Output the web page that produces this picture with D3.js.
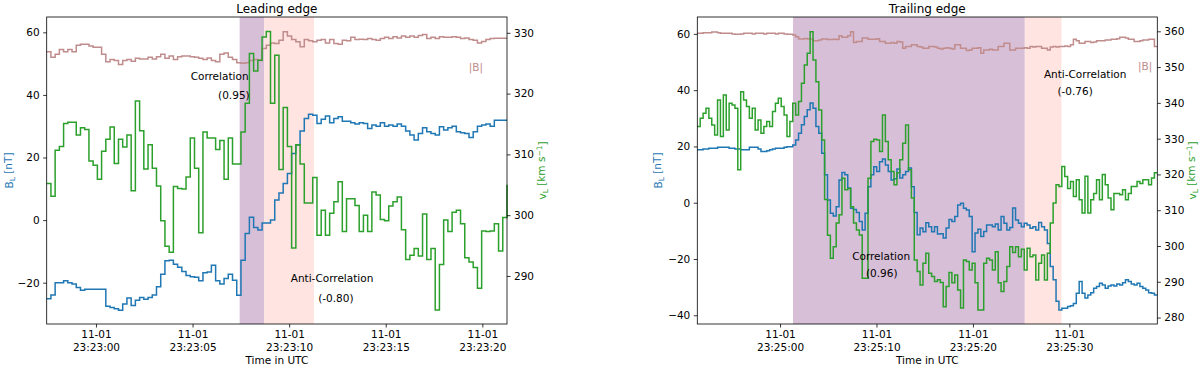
<!DOCTYPE html>
<html>
<head>
<meta charset="utf-8">
<style>
  body { margin: 0; background: #fff; }
  svg text { font-family: "DejaVu Sans", sans-serif; fill: #000; }
</style>
</head>
<body>
<div id="chart"></div>
<script src="https://d3js.org/d3.v7.min.js"></script>
<script>

// ---------------- data : leading edge ----------------
// samples are evenly spaced, starting at leadStart
var leadStart = "2015-11-01T23:22:57.450Z";
var leadStep = 0.2186; // seconds

var leadBL = [
  -25.1, -23.9, -20.0, -20.0, -19.4, -20.0, -20.4, -21.5, -22.4, -22.1,
  -22.1, -22.1, -22.1, -22.1, -27.5, -27.9, -28.3, -28.8, -26.8, -24.9,
  -27.3, -25.6, -24.7, -25.3, -24.7, -23.9, -21.3, -17.3, -13.0, -12.8,
  -14.1, -15.1, -16.4, -17.7, -18.1, -18.3, -19.4, -16.8, -16.6, -14.4,
  -19.4, -20.4, -18.7, -17.3, -19.2, -24.0, -12.8, -4.3, 0.9, -2.4,
  -3.2, -0.9, -0.9, 0.0, 6.4, 8.7, 11.7, 14.9, 21.3, 24.0,
  28.5, 32.5, 33.8, 33.5, 30.9, 32.2, 33.3, 31.1, 32.5, 33.0,
  31.6, 31.6, 31.1, 30.7, 31.1, 30.9, 29.3, 30.4, 30.0, 31.1,
  30.0, 30.4, 30.0, 30.7, 30.0, 28.5, 27.2, 25.6, 27.7, 29.5,
  28.2, 27.7, 27.2, 29.8, 28.8, 29.5, 30.0, 28.2, 27.9, 27.7,
  26.4, 28.2, 30.0, 30.4, 30.7, 30.0, 31.9, 31.9, 31.9, 31.9
];

var leadVL = [
  305.2, 303.1, 310.7, 311.3, 315.1, 315.3, 315.3, 313.2, 314.4, 314.1,
  308.9, 308.2, 305.9, 310.5, 312.5, 314.5, 308.5, 312.5, 311.2, 313.2,
  304.0, 318.8, 313.9, 307.6, 311.6, 307.7, 304.8, 299.1, 294.9, 293.9,
  304.7, 304.4, 304.3, 306.3, 312.7, 307.7, 297.1, 313.7, 312.7, 312.7,
  310.8, 312.3, 305.9, 312.7, 308.4, 308.4, 313.7, 318.4, 326.6, 323.7,
  325.5, 329.3, 330.2, 318.4, 326.3, 307.5, 317.7, 311.3, 294.6, 311.6,
  308.4, 302.0, 302.0, 306.2, 296.7, 300.8, 296.7, 300.3, 302.2, 305.5,
  297.3, 302.7, 302.7, 301.6, 297.3, 300.0, 297.3, 303.8, 303.3, 299.3,
  299.1, 301.5, 302.2, 303.0, 297.6, 292.7, 293.4, 294.5, 293.3, 300.2,
  292.7, 294.5, 284.4, 291.9, 299.2, 297.3, 300.5, 300.8, 298.6, 293.0,
  292.3, 291.4, 288.0, 297.4, 297.3, 297.4, 298.6, 294.1, 299.6, 305.0
];

var leadBmag = [
  53.8, 52.0, 53.0, 54.5, 53.8, 54.5, 53.8, 55.9, 56.2, 56.2,
  55.6, 55.2, 55.2, 53.0, 50.6, 51.3, 51.0, 49.7, 51.0, 51.3,
  50.8, 51.7, 51.5, 51.5, 52.0, 51.5, 52.2, 53.0, 51.7, 52.4,
  51.3, 52.2, 52.4, 52.4, 52.2, 52.0, 51.7, 51.3, 51.8, 51.0,
  50.6, 53.0, 53.4, 52.0, 51.3, 50.3, 50.1, 50.3, 51.0, 51.3,
  51.0, 54.8, 55.9, 56.6, 56.4, 57.5, 60.2, 58.8, 57.7, 57.0,
  55.4, 57.7, 57.3, 57.0, 57.5, 57.7, 56.6, 57.7, 56.4, 56.2,
  57.5, 57.3, 58.4, 57.7, 57.8, 57.7, 58.0, 57.7, 57.5, 58.0,
  58.4, 58.0, 58.6, 58.2, 58.8, 58.4, 58.8, 58.4, 59.0, 59.3,
  58.0, 58.4, 58.0, 58.6, 58.4, 58.4, 58.6, 58.4, 58.0, 58.2,
  57.7, 57.5, 56.6, 57.1, 57.7, 58.0, 58.1, 58.1, 58.1, 58.1
];

var leadTicks = ["2015-11-01T23:23:00Z", "2015-11-01T23:23:05Z", "2015-11-01T23:23:10Z",
                 "2015-11-01T23:23:15Z", "2015-11-01T23:23:20Z"];
var leadBTicks = [-20, 0, 20, 40, 60];
var leadVTicks = [290, 300, 310, 320, 330];
var leadBRange = [-33.2, 64.9];
var leadVRange = [282.1, 332.6];
// correlated / anti-correlated intervals
var leadSpans = [["2015-11-01T23:23:07.438Z", "2015-11-01T23:23:08.711Z"],
                 ["2015-11-01T23:23:08.711Z", "2015-11-01T23:23:11.284Z"]];
// [text, time, B value]
var leadNotes = [
  ["Correlation", "2015-11-01T23:23:06.40Z", 44.7],
  ["(0.95)", "2015-11-01T23:23:07.14Z", 38.7],
  ["Anti-Correlation", "2015-11-01T23:23:12.22Z", -19.7],
  ["(-0.80)", "2015-11-01T23:23:12.42Z", -26.1]
];
var leadBmagLabel = ["|B|", "2015-11-01T23:23:19.67Z", 47.7];

// ---------------- data : trailing edge ----------------
var trailStart = "2015-11-01T23:24:51.420Z";
var trailStep = 0.3; // seconds

var trailBL = [
  18.8, 18.8, 19.1, 19.1, 19.4, 19.4, 19.4, 19.7, 19.7, 19.7,
  19.7, 19.4, 19.4, 19.1, 19.1, 18.8, 18.8, 18.8, 19.7, 19.7,
  19.7, 19.1, 18.2, 18.2, 18.5, 18.8, 19.1, 19.4, 19.4, 19.4,
  19.7, 19.9, 19.9, 20.5, 22.3, 24.7, 27.7, 30.6, 33.0, 35.4,
  33.6, 27.1, 24.7, 17.6, 9.9, 1.0, -3.7, -4.7, -1.4, 8.1,
  10.7, 9.9, 5.2, -2.0, -2.4, -3.5, -6.7, -9.7, -3.7, 5.7,
  9.9, 12.8, 11.1, 14.6, 15.5, 13.4, 11.1, 8.1, 8.5, 12.0,
  8.8, 9.9, 11.1, 12.3, 5.7, -3.5, -11.4, -9.0, -10.3, -7.1,
  -8.5, -10.3, -8.5, -11.1, -11.0, -12.5, -9.0, -6.0, -6.7, -4.9,
  -0.8, -0.2, -2.0, -2.6, -4.9, -17.4, -10.8, -9.4, -12.0, -10.2,
  -7.9, -7.9, -8.5, -7.6, -9.7, -4.9, -7.3, -9.7, -8.8, -1.9,
  -6.1, -7.3, -8.5, -7.3, -7.9, -9.1, -8.5, -9.7, -7.0, -8.5,
  -9.7, -14.5, -22.7, -27.4, -35.0, -38.1, -37.5, -37.5, -36.9, -36.6,
  -35.8, -32.2, -28.0, -32.2, -33.9, -32.8, -32.0, -30.4, -29.8, -28.6,
  -29.2, -30.4, -29.6, -29.2, -29.6, -28.9, -29.2, -28.4, -27.4, -28.0,
  -28.9, -29.2, -28.6, -29.8, -30.4, -31.0, -32.0, -32.2, -32.8, -32.8
];

var trailVL = [
  333.4, 335.7, 337.1, 338.5, 335.7, 333.8, 331.0, 340.8, 330.6, 342.2,
  332.4, 339.9, 339.4, 338.5, 321.3, 343.1, 340.8, 339.0, 335.7, 338.5,
  332.4, 335.2, 331.5, 333.4, 334.8, 333.4, 337.6, 339.9, 341.3, 339.0,
  336.6, 330.6, 334.8, 339.9, 336.6, 340.4, 345.5, 350.6, 353.9, 359.9,
  352.0, 345.9, 338.0, 329.6, 313.0, 303.0, 296.6, 299.8, 306.4, 308.7,
  318.9, 315.7, 316.1, 311.0, 306.4, 304.5, 303.1, 291.0, 291.0, 318.9,
  329.2, 329.8, 329.6, 326.4, 336.6, 329.2, 324.1, 320.8, 317.1, 320.5,
  324.1, 328.7, 333.8, 321.3, 313.4, 296.1, 292.9, 289.1, 295.2, 298.0,
  292.4, 291.5, 290.1, 290.6, 289.8, 283.0, 288.7, 292.6, 289.7, 291.9,
  287.7, 282.7, 296.1, 295.7, 293.3, 295.2, 289.7, 282.1, 282.1, 295.2,
  296.6, 296.1, 293.3, 298.4, 289.7, 287.3, 290.1, 294.3, 299.8, 298.2,
  299.8, 297.0, 299.1, 293.3, 299.4, 297.0, 297.5, 290.5, 295.2, 297.5,
  290.5, 298.0, 306.4, 312.0, 317.1, 316.6, 322.2, 319.4, 316.1, 318.0,
  313.8, 318.5, 312.9, 309.2, 319.5, 309.2, 312.9, 314.7, 318.5, 312.9,
  320.0, 317.1, 313.4, 310.1, 314.7, 314.7, 314.3, 315.7, 312.9, 314.7,
  316.6, 316.6, 318.0, 317.5, 318.5, 318.5, 317.1, 319.0, 320.5, 320.5
];

var trailBmag = [
  60.2, 60.2, 60.4, 60.4, 60.4, 60.7, 60.7, 60.4, 60.2, 60.2,
  60.2, 60.2, 60.0, 59.9, 59.9, 60.0, 60.2, 60.2, 60.2, 60.0,
  60.2, 60.2, 60.2, 60.0, 60.2, 60.2, 60.2, 60.0, 60.2, 60.2,
  60.0, 59.9, 59.9, 59.6, 59.0, 58.2, 58.2, 58.4, 58.2, 58.2,
  57.6, 57.6, 57.8, 58.2, 58.2, 58.0, 58.0, 58.1, 58.0, 59.3,
  58.8, 58.8, 59.3, 60.8, 56.9, 57.3, 57.3, 58.5, 58.5, 58.1,
  58.1, 58.1, 58.3, 57.3, 57.3, 56.7, 56.7, 56.9, 56.7, 57.3,
  57.1, 54.9, 55.5, 55.5, 56.1, 56.1, 55.5, 55.3, 54.9, 54.9,
  55.5, 55.5, 55.3, 54.9, 54.6, 54.9, 55.1, 54.9, 54.6, 56.1,
  56.1, 54.9, 54.9, 54.1, 54.3, 54.9, 54.9, 55.1, 53.1, 54.3,
  54.3, 54.5, 54.3, 54.3, 55.5, 55.5, 56.7, 56.7, 54.3, 54.3,
  54.9, 54.9, 54.9, 55.1, 54.9, 55.5, 55.3, 55.5, 55.5, 54.9,
  54.9, 54.3, 55.3, 55.5, 55.3, 55.5, 55.5, 55.7, 55.5, 56.1,
  58.1, 57.6, 56.7, 56.7, 57.3, 57.3, 56.9, 57.1, 57.6, 57.6,
  57.6, 57.8, 57.8, 58.1, 58.1, 58.3, 58.8, 58.8, 58.5, 58.1,
  58.1, 57.3, 57.3, 57.6, 57.8, 57.8, 58.1, 58.1, 55.5, 55.5
];

var trailTicks = ["2015-11-01T23:25:00Z", "2015-11-01T23:25:10Z",
                  "2015-11-01T23:25:20Z", "2015-11-01T23:25:30Z"];
var trailBTicks = [-40, -20, 0, 20, 40, 60];
var trailVTicks = [280, 290, 300, 310, 320, 330, 340, 350, 360];
var trailBRange = [-43.1, 66.0];
var trailVRange = [278.2, 364.0];
var trailSpans = [["2015-11-01T23:25:01.349Z", "2015-11-01T23:25:25.380Z"],
                  ["2015-11-01T23:25:25.380Z", "2015-11-01T23:25:29.180Z"]];
var trailNotes = [
  ["Anti-Correlation", "2015-11-01T23:25:31.64Z", 44.3],
  ["(-0.76)", "2015-11-01T23:25:30.60Z", 38.3],
  ["Correlation", "2015-11-01T23:25:10.48Z", -20.3],
  ["(0.96)", "2015-11-01T23:25:10.55Z", -26.3]
];
var trailBmagLabel = ["|B|", "2015-11-01T23:25:37.86Z", 47.0];

// ---------------- drawing ----------------
var colBL = "#1f77b4", colVL = "#2ca02c", colBmag = "#c08c8c";
var spanFill = ["#d8bfd8", "#ffe4e1"];
var plotTop = 17, plotBottom = 324;

var svg = d3.select("#chart").append("svg")
    .attr("width", 1200)
    .attr("height", 368);

var fmtDay = d3.utcFormat("%m-%d"),
    fmtTime = d3.utcFormat("%H:%M:%S");

function toSeries(start, step, values) {
  var t0 = new Date(start).getTime();
  return values.map(function(v, i) {
    return { date: new Date(t0 + i * step * 1000), value: v };
  });
}

function drawPanel(p) {
  var g = svg.append("g");
  var bl = toSeries(p.start, p.step, p.bl),
      vl = toSeries(p.start, p.step, p.vl),
      bm = toSeries(p.start, p.step, p.bmag);

  var x = d3.scaleUtc()
      .domain(d3.extent(bl, function(d) { return d.date; }))
      .range([p.left, p.right]);
  var yB = d3.scaleLinear().domain(p.bRange).range([plotBottom, plotTop]);
  var yV = d3.scaleLinear().domain(p.vRange).range([plotBottom, plotTop]);

  // shaded intervals
  p.spans.forEach(function(s, i) {
    var x0 = x(new Date(s[0])), x1 = x(new Date(s[1]));
    g.append("rect")
        .attr("x", x0).attr("y", plotTop)
        .attr("width", x1 - x0).attr("height", plotBottom - plotTop)
        .attr("fill", spanFill[i]);
  });

  var lineB = d3.line().curve(d3.curveStepAfter)
      .x(function(d) { return x(d.date); })
      .y(function(d) { return yB(d.value); });
  var lineV = d3.line().curve(d3.curveStepAfter)
      .x(function(d) { return x(d.date); })
      .y(function(d) { return yV(d.value); });

  g.append("path").datum(bm).attr("d", lineB)
      .attr("fill", "none").attr("stroke", colBmag).attr("stroke-width", 1.5);
  g.append("path").datum(bl).attr("d", lineB)
      .attr("fill", "none").attr("stroke", colBL).attr("stroke-width", 1.5);
  g.append("path").datum(vl).attr("d", lineV)
      .attr("fill", "none").attr("stroke", colVL).attr("stroke-width", 1.5);

  // axes
  var xAxis = g.append("g")
      .attr("transform", "translate(0," + plotBottom + ")")
      .call(d3.axisBottom(x)
        .tickValues(p.ticks.map(function(t) { return new Date(t); }))
        .tickSize(3.5).tickPadding(3.5).tickSizeOuter(0));
  xAxis.selectAll(".tick text").each(function(d) {
    var t = d3.select(this);
    t.text(null);
    t.append("tspan").attr("x", 0).text(fmtDay(d));
    t.append("tspan").attr("x", 0).attr("dy", "1.17em").text(fmtTime(d));
  });

  var yAxisL = g.append("g")
      .attr("transform", "translate(" + p.left + ",0)")
      .call(d3.axisLeft(yB).tickValues(p.bTicks).tickSize(3.5).tickPadding(3.5).tickSizeOuter(0));
  var yAxisR = g.append("g")
      .attr("transform", "translate(" + p.right + ",0)")
      .call(d3.axisRight(yV).tickValues(p.vTicks).tickSize(3.5).tickPadding(3.5).tickSizeOuter(0));

  [xAxis, yAxisL, yAxisR].forEach(function(a) {
    a.select(".domain").remove();
    a.attr("font-family", null).attr("font-size", null);
    a.selectAll(".tick line").attr("stroke", "#000").attr("stroke-width", 0.8);
    a.selectAll(".tick text").attr("fill", "#000").style("font-size", "10.5px");
  });

  // frame
  g.append("rect")
      .attr("x", p.left).attr("y", plotTop)
      .attr("width", p.right - p.left).attr("height", plotBottom - plotTop)
      .attr("fill", "none").attr("stroke", "#000").attr("stroke-width", 0.8);

  // annotations
  p.notes.forEach(function(n) {
    g.append("text")
        .attr("x", x(new Date(n[1]))).attr("y", yB(n[2]))
        .attr("text-anchor", "middle").style("font-size", "10.5px")
        .text(n[0]);
  });
  g.append("text")
      .attr("x", x(new Date(p.bmagLabel[1]))).attr("y", yB(p.bmagLabel[2]))
      .attr("text-anchor", "middle").style("font-size", "10.5px")
      .style("fill", colBmag)
      .text(p.bmagLabel[0]);

  var mid = (p.left + p.right) / 2;
  // title
  g.append("text").attr("x", mid).attr("y", 12.7)
      .attr("text-anchor", "middle").style("font-size", "12px")
      .text(p.title);
  // x label
  g.append("text").attr("x", mid).attr("y", 364)
      .attr("text-anchor", "middle").style("font-size", "10.5px")
      .text("Time in UTC");

  // y labels
  var cy = (plotTop + plotBottom) / 2;
  var lb = g.append("text")
      .attr("transform", "translate(" + p.bLabelX + "," + cy + ") rotate(-90)")
      .attr("text-anchor", "middle").style("font-size", "10.5px").style("fill", colBL);
  lb.append("tspan").text("B");
  lb.append("tspan").attr("dy", "0.3em").style("font-size", "7.5px").text("L");
  lb.append("tspan").attr("dy", "-0.3em").text(" [nT]");

  var lv = g.append("text")
      .attr("transform", "translate(" + p.vLabelX + "," + cy + ") rotate(-90)")
      .attr("text-anchor", "middle").style("font-size", "10.5px").style("fill", colVL);
  lv.append("tspan").text("v");
  lv.append("tspan").attr("dy", "0.3em").style("font-size", "7.5px").text("L");
  lv.append("tspan").attr("dy", "-0.3em").text(" [km s");
  lv.append("tspan").attr("dy", "-0.45em").style("font-size", "7.5px").text("\u22121");
  lv.append("tspan").attr("dy", "0.45em").text("]");
}

drawPanel({
  title: "Leading edge", left: 46.7, right: 507,
  start: leadStart, step: leadStep, bl: leadBL, vl: leadVL, bmag: leadBmag,
  ticks: leadTicks, bTicks: leadBTicks, vTicks: leadVTicks,
  bRange: leadBRange, vRange: leadVRange, spans: leadSpans,
  notes: leadNotes, bmagLabel: leadBmagLabel,
  bLabelX: 13, vLabelX: 546
});

drawPanel({
  title: "Trailing edge", left: 697.3, right: 1157.3,
  start: trailStart, step: trailStep, bl: trailBL, vl: trailVL, bmag: trailBmag,
  ticks: trailTicks, bTicks: trailBTicks, vTicks: trailVTicks,
  bRange: trailBRange, vRange: trailVRange, spans: trailSpans,
  notes: trailNotes, bmagLabel: trailBmagLabel,
  bLabelX: 661.5, vLabelX: 1196
});

</script>
</body>
</html>
